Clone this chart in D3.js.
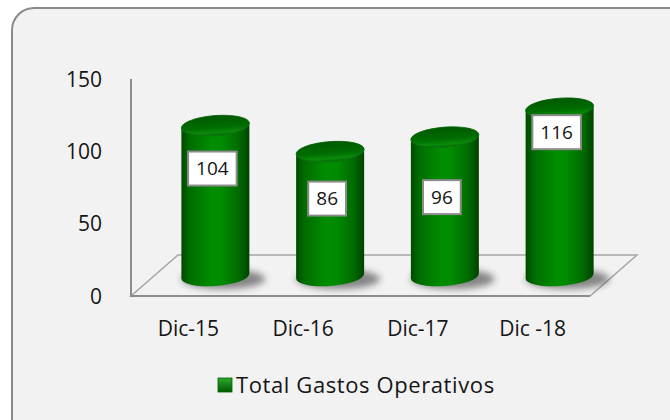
<!DOCTYPE html>
<html>
<head>
<meta charset="utf-8">
<script src="https://cdn.jsdelivr.net/npm/d3@7"></script>
<style>
  html,body{margin:0;padding:0;background:#fff;}
  svg{display:block;}
  text{font-family:"Open Sans",sans-serif;fill:#151515;}
</style>
</head>
<body>
<div id="chart"></div>
<script>
/* ========== DATA ========== */
const categories=['Dic-15','Dic-16','Dic-17','Dic -18'];
const values=[104,86,96,116];
const yTicks=[0,50,100,150];
const seriesName='Total Gastos Operativos';

/* ========== LAYOUT ========== */
const W=670,H=420;
const plot={left:131,right:590,top:79,bottom:296};
const depth={dx:47,dy:-41};        // back plane offset
const barDepth={dx:27,dy:-20};     // bars sit mid-depth
const labelDy=[43,47,60,24];       // data label box centre below bar top

const svg=d3.select('#chart').append('svg')
  .attr('width',W).attr('height',H).attr('viewBox',`0 0 ${W} ${H}`);

const defs=svg.append('defs');
const bodyGrad=defs.append('linearGradient').attr('id','cylBody')
  .attr('x1','0%').attr('x2','100%').attr('y1','0%').attr('y2','0%');
[['0%','#004a00'],['12%','#006c00'],['45%','#008e00'],['60%','#008a00'],['85%','#006a00'],['100%','#004200']]
  .forEach(([o,c])=>bodyGrad.append('stop').attr('offset',o).attr('stop-color',c));
const topGrad=defs.append('linearGradient').attr('id','cylTop')
  .attr('x1','0%').attr('x2','0%').attr('y1','0%').attr('y2','100%');
[['0%','#005800'],['60%','#006e00'],['85%','#0a8a0a'],['100%','#007000']]
  .forEach(([o,c])=>topGrad.append('stop').attr('offset',o).attr('stop-color',c));
const swGrad=defs.append('linearGradient').attr('id','swatch')
  .attr('x1','0%').attr('x2','0%').attr('y1','0%').attr('y2','100%');
[['0%','#2fa82f'],['100%','#005a00']]
  .forEach(([o,c])=>swGrad.append('stop').attr('offset',o).attr('stop-color',c));
defs.append('filter').attr('id','blur').attr('x','-50%').attr('y','-50%').attr('width','200%').attr('height','200%')
  .append('feGaussianBlur').attr('stdDeviation',3.5);

// Chart area frame
svg.append('rect').attr('x',12).attr('y',8).attr('width',W+20).attr('height',H+20)
  .attr('rx',22).attr('fill','#f2f2f2').attr('stroke','#8a8a8a').attr('stroke-width',2);

const x=d3.scaleBand().domain(categories).range([plot.left,plot.right]).paddingInner(0).paddingOuter(0);
const y=d3.scaleLinear().domain([0,150]).range([plot.bottom,plot.top]);

// Floor
const fl=[[plot.left,plot.bottom],[plot.right,plot.bottom],
  [plot.right+depth.dx,plot.bottom+depth.dy],[plot.left+depth.dx,plot.bottom+depth.dy]];
svg.append('path').attr('d',d3.line()(fl)+'Z')
  .attr('fill','none').attr('stroke','#a6a6a6').attr('stroke-width',1.5);

// Value axis (front-left)
svg.append('line').attr('x1',plot.left).attr('x2',plot.left)
  .attr('y1',y(150)).attr('y2',plot.bottom+1)
  .attr('stroke','#8c8c8c').attr('stroke-width',2);
svg.append('line').attr('x1',plot.left).attr('x2',plot.right)
  .attr('y1',plot.bottom).attr('y2',plot.bottom)
  .attr('stroke','#8c8c8c').attr('stroke-width',2);

// Tick labels
svg.append('g').selectAll('text').data(yTicks).enter().append('text')
  .attr('x',102).attr('y',d=>y(d)).attr('dy','0.36em')
  .attr('text-anchor','end').style('font-size','21px').text(d=>d);

svg.append('g').selectAll('text').data(categories).enter().append('text')
  .attr('x',d=>x(d)+x.bandwidth()/2).attr('y',plot.bottom+32).attr('dy','0.36em')
  .attr('text-anchor','middle').style('font-size','21px').text(d=>d);

// Cylinders
const rx=34,ry=10;
const bars=svg.append('g').selectAll('g').data(values).enter().append('g')
  .attr('transform',(d,i)=>`translate(${x(categories[i])+x.bandwidth()/2+barDepth.dx},0)`);

bars.append('ellipse').attr('cx',8).attr('cy',y(0)+barDepth.dy+3)
  .attr('rx',rx+8).attr('ry',ry).attr('fill','#2b2b2b').attr('opacity',0.55)
  .attr('filter','url(#blur)');

const cyl=bars.append('g').attr('transform','skewY(-4)');
cyl.append('path').attr('d',d=>{
  const yt=y(d)+barDepth.dy,yb=y(0)+barDepth.dy;
  return `M${-rx},${yt}L${-rx},${yb}A${rx},${ry} 0 0 0 ${rx},${yb}L${rx},${yt}A${rx},${ry} 0 0 1 ${-rx},${yt}Z`;
}).attr('fill','url(#cylBody)');
cyl.append('ellipse').attr('cx',0).attr('cy',d=>y(d)+barDepth.dy)
  .attr('rx',rx).attr('ry',ry).attr('fill','url(#cylTop)')
  .attr('stroke','#006000').attr('stroke-width',0.8);

// Data labels
bars.each(function(d,i){
  const g=d3.select(this);
  const cy=y(d)+barDepth.dy+labelDy[i];
  const t=g.append('text').attr('x',-3).attr('y',cy).attr('dy','0.36em')
    .attr('text-anchor','middle').style('font-size','19px').text(d);
  const bw=t.node().getComputedTextLength()+16;
  g.insert('rect','text').attr('x',-3-bw/2).attr('y',cy-17).attr('width',bw).attr('height',34)
    .attr('fill','#fff').attr('stroke','#8c8c8c').attr('stroke-width',2);
});

// Legend
const lg=svg.append('g').attr('transform','translate(218,385)');
lg.append('rect').attr('x',0).attr('y',-7).attr('width',14).attr('height',14)
  .attr('fill','url(#swatch)').attr('stroke','#006000').attr('stroke-width',0.8);
lg.append('text').attr('x',18).attr('y',0).attr('dy','0.36em')
  .style('font-size','22px').style('letter-spacing','0.6px').text(seriesName);
</script>
</body>
</html>
